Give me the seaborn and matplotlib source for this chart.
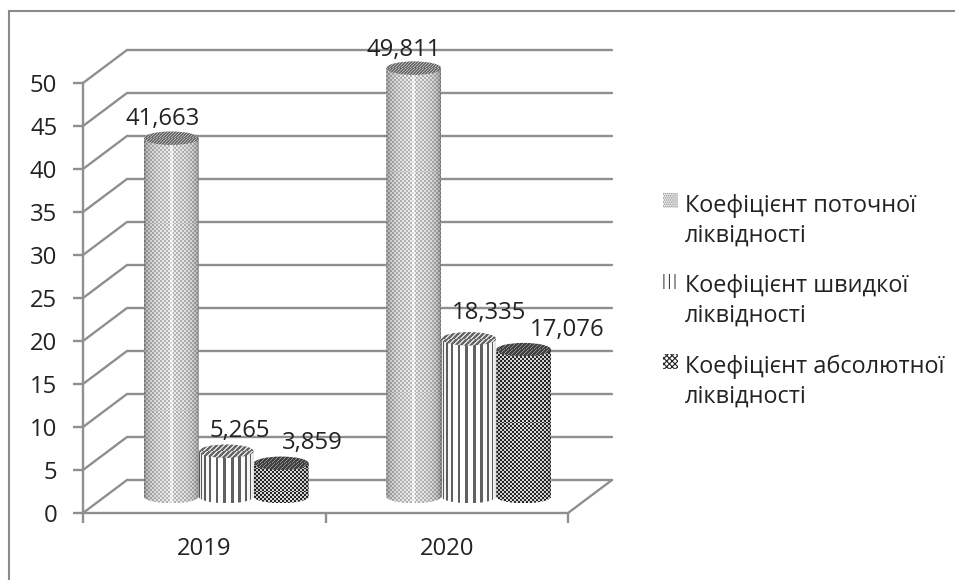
import numpy as np
import pandas as pd
import matplotlib
matplotlib.use("Agg")
import matplotlib.pyplot as plt
from matplotlib.patches import Ellipse, Patch, Rectangle, PathPatch
from matplotlib.path import Path
from matplotlib.lines import Line2D
from matplotlib.legend_handler import HandlerPatch
import seaborn as sns

# Liquidity ratios by year
years = ["2019", "2020"]
series_names = [
    "Коефіцієнт поточної\nліквідності",
    "Коефіцієнт швидкої\nліквідності",
    "Коефіцієнт абсолютної\nліквідності",
]
current_ratio = [41.663, 49.811]
quick_ratio = [5.265, 18.335]
absolute_ratio = [3.859, 17.076]
y_ticks = list(range(0, 55, 5))

# Label nudges in points, one row per series
label_dx = [[-6.5, -7], [10, 14.6], [22, 31]]
label_dy = [[9.4, 8.6], [10, 14.0], [10, 10]]

W, H = 955, 580
DPI = 100
FS = 17.2
GRID = "#8f8f8f"
TEXT = "#222222"

sns.set_theme(style="white")
plt.rcParams["font.family"] = ["Open Sans", "DejaVu Sans"]
plt.rcParams["hatch.linewidth"] = 0.8

fig = plt.figure(figsize=(W / DPI, H / DPI), dpi=DPI, facecolor="white")


def axes_px(left, right, top, bottom):
    return fig.add_axes([left / W, 1 - bottom / H, (right - left) / W, (bottom - top) / H])


# Outer chart frame
fig.add_artist(Line2D([8.5 / W, 8.5 / W, 1], [0, 1 - 10.5 / H, 1 - 10.5 / H],
                      color="#8a8a8a", lw=1.5, solid_joinstyle="miter"))

# Front plane of the 3-D box: holds the value and category scales
L, R, T0, B0 = 83, 568, 83, 513
ax = axes_px(L, R, T0, B0)
ax.set_xlim(-0.5, 1.5)
ax.set_ylim(0, 50)
ax.patch.set_alpha(0)
for name, sp in ax.spines.items():
    sp.set_visible(name in ("left", "bottom"))
    sp.set_color(GRID)
    sp.set_linewidth(1.7)
ax.set_xticks([-0.5, 0, 0.5, 1, 1.5])
ax.set_xticklabels(["", years[0], "", years[1], ""], fontsize=FS, color=TEXT)
ax.set_yticks(y_ticks)
ax.set_yticklabels([str(t) for t in y_ticks], fontsize=FS, color=TEXT)
ax.tick_params(axis="y", length=7, width=1.7, color=GRID, pad=11.5, left=True)
ax.tick_params(axis="x", length=7, width=1.7, color=GRID, pad=10, bottom=True)
for t in ax.xaxis.get_major_ticks():
    if abs(t.get_loc() - round(t.get_loc())) < 1e-6:
        t.tick1line.set_visible(False)

# Depth of the box, in data units of the front plane
px_x = (R - L) / 2
px_y = (B0 - T0) / 50
dx, dy = 44 / px_x, 33 / px_y
for v in y_ticks:
    ax.plot([-0.5, -0.5 + dx, 1.5 + dx], [v, v + dy, v + dy], color=GRID, lw=1.7,
            clip_on=False, zorder=1, solid_joinstyle="miter")
ax.plot([1.5, 1.5 + dx], [0, dy], color=GRID, lw=1.7, clip_on=False, zorder=1)

# Columns stand halfway into the box, so they get their own shifted axes,
# with spare room below zero and above fifty for the rounded ends
PAD = 5
bx = axes_px(L + 22, R + 22, T0 - 16.5 - PAD * px_y, B0 - 16.5 + PAD * px_y)
bx.patch.set_alpha(0)
bx.axis("off")

df = pd.DataFrame({
    "year": years * 3,
    "value": current_ratio + quick_ratio + absolute_ratio,
    "series": [s for s in series_names for _ in years],
})
sns.barplot(data=df, x="year", y="value", hue="series", hue_order=series_names,
            palette=["#c4c4c4", "#d8d8d8", "#6a6a6a"], width=0.68, dodge=True,
            legend=False, saturation=1, linewidth=0, ax=bx)
bx.set_xlim(-0.5, 1.5)
bx.set_ylim(-PAD, 50 + PAD)


def side_texture(kind, nx, ny):
    """Grey-level image of a column's side wall, shaded across its curve."""
    u = np.linspace(-0.995, 0.995, nx)
    ang = np.arcsin(u)
    xx, yy = np.meshgrid(np.arange(nx), np.arange(ny))
    shade = (0.52 + 0.48 * (np.cos(ang) ** 0.6))[None, :]
    if kind == 0:
        img = (0.70 + 0.22 * ((xx // 2 + yy // 2) % 2 == 0)) * shade
        img[:, np.abs(u) < 0.05] += 0.15
    elif kind == 1:
        stripes = (np.sin(ang * 22) > -0.35)[None, :].repeat(ny, axis=0)
        img = np.where(stripes, 1.0, 0.38) * (0.70 + 0.30 * shade)
    else:
        cell = (xx // 2 + yy // 2) % 2 == 0
        img = np.where(cell, 0.78, 0.14) * (0.55 + 0.55 * shade)
    return np.clip(img, 0, 1)


def top_texture(kind, nx, ny):
    """Grey-level image of a column's top face."""
    xx, yy = np.meshgrid(np.arange(nx), np.arange(ny))
    if kind == 0:
        return 0.42 + 0.3 * ((xx + yy) % 3 == 0)
    if kind == 1:
        return np.where((xx + yy) % 5 < 2, 0.85, 0.40)
    return 0.26 + 0.3 * ((xx + yy) % 4 == 0)


ell_h = 13.5 / px_y  # full ellipse height in value units
bars = list(bx.patches)
values = current_ratio + quick_ratio + absolute_ratio
for i, rect in enumerate(bars):
    kind = i // 2
    x0, w, h = rect.get_x(), rect.get_width(), rect.get_height()
    nx = int(round(w * px_x))
    ny = int(round((h + ell_h) * px_y)) + 2
    z = 3 + kind * 0.1
    body = bx.imshow(side_texture(kind, nx, ny), cmap="gray", vmin=0, vmax=1, aspect="auto",
                     interpolation="nearest",
                     extent=[x0, x0 + w, -ell_h / 2, h + ell_h / 2], zorder=z)
    # Column outline: straight sides with a rounded foot, the flat head is hidden by the cap
    t = np.linspace(np.pi, 2 * np.pi, 60)
    foot = np.c_[x0 + w / 2 + w / 2 * np.cos(t), ell_h / 2 * np.sin(t)]
    outline = Path(np.r_[foot, [[x0 + w, h]], [[x0, h]], foot[:1]])
    body.set_clip_path(PathPatch(outline, transform=bx.transData))
    cap = bx.imshow(top_texture(kind, nx, int(ell_h * px_y) + 2), cmap="gray", vmin=0, vmax=1,
                    aspect="auto", interpolation="nearest",
                    extent=[x0, x0 + w, h - ell_h / 2, h + ell_h / 2], zorder=z + 0.01)
    cap.set_clip_path(Ellipse((x0 + w / 2, h), w, ell_h, transform=bx.transData))
    rect.set_visible(False)

    col = i % 2
    bx.annotate(f"{values[i]:.3f}".replace(".", ","), (x0 + w / 2, h),
                xytext=(label_dx[kind][col], label_dy[kind][col]), textcoords="offset points",
                ha="center", va="baseline", fontsize=FS, color=TEXT, zorder=10,
                annotation_clip=False)
bx.set_xlim(-0.5, 1.5)
bx.set_ylim(-PAD, 50 + PAD)


def raised_swatch(legend, orig_handle, xdescent, ydescent, width, height, fontsize):
    # Swatch sits level with the first line of its two-line label
    return Rectangle((-xdescent, -ydescent + 14.8), width, height)


# Legend with patterned swatches
handles = [
    Patch(facecolor="white", edgecolor="#777777", hatch="........", lw=0),
    Patch(facecolor="white", edgecolor="#444444", hatch="|||", lw=0),
    Patch(facecolor="white", edgecolor="#222222", hatch="xxxxxx", lw=0),
]
leg = fig.legend(handles, series_names, loc="upper left", bbox_to_anchor=(663 / W, 1 - 194 / H),
                 frameon=False, fontsize=16.9, labelcolor=TEXT, handlelength=0.62, handleheight=0.62,
                 handletextpad=0.3, labelspacing=1.15, borderpad=0, borderaxespad=0,
                 handler_map={Patch: HandlerPatch(patch_func=raised_swatch)})
for txt in leg.get_texts():
    txt.set_linespacing(1.3)

fig.savefig("out.png", dpi=DPI)
